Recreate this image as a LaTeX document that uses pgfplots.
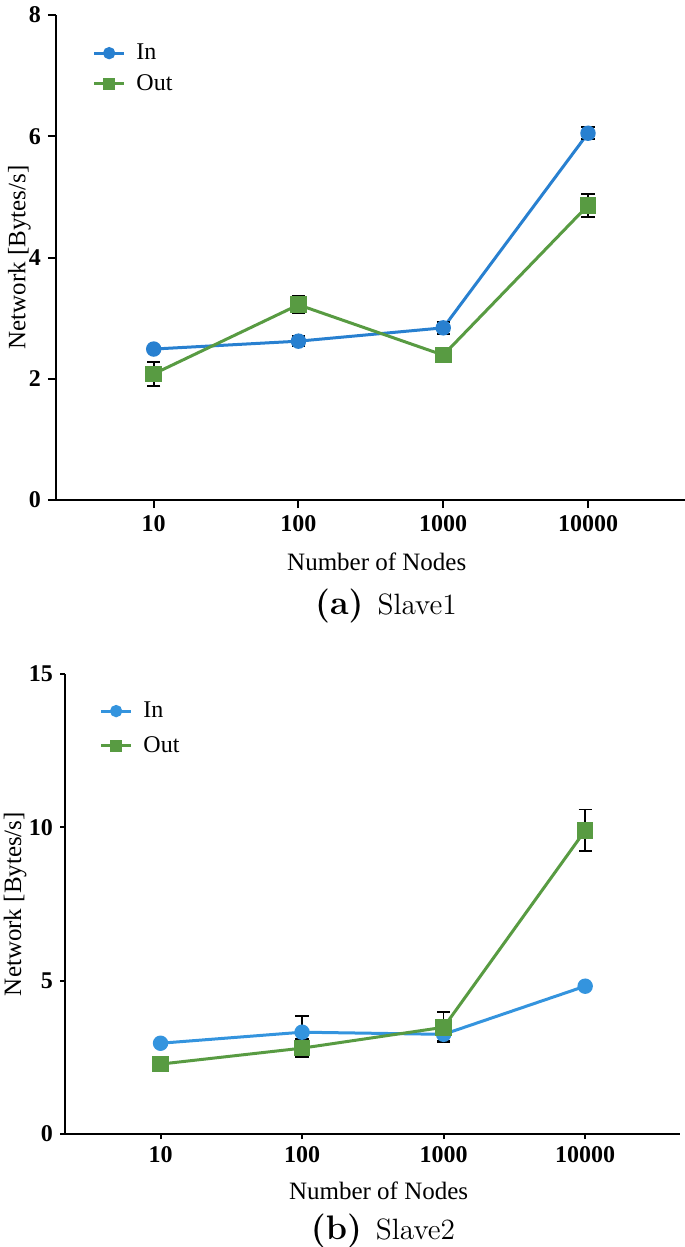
\documentclass[border=0pt]{standalone}
\usepackage{pgfplots}
\pgfplotsset{compat=1.18}
\usepackage{fontspec}
\newfontfamily\tnr{Liberation Serif}
\definecolor{inblue}{RGB}{40,128,208}
\definecolor{inblue2}{RGB}{52,148,222}
\definecolor{outgreen}{RGB}{88,155,66}

\pgfplotsset{
  legend image code/.code={\draw[mark repeat=2,mark phase=2,#1,mark size=2.3pt] plot coordinates {(0cm,0cm) (0.26cm,0cm) (0.52cm,0cm)};},
  netstyle/.style={
    scale only axis,
    axis lines=left,
    axis line style={-, line width=1.1pt},
    xmin=-0.675, xmax=3.67, ymin=0,
    xtick={0,1,2,3}, xticklabels={10,100,1000,10000},
    tick align=outside,
    tick style={line width=1pt, black},
    ticklabel style={font=\tnr\bfseries\fontsize{12}{14}\selectfont},
    /pgf/number format/assume math mode=true,
    xlabel={Number of Nodes}, ylabel={Network [Bytes/s]},
    label style={font=\tnr\fontsize{12.5}{14}\selectfont},
    legend style={draw=none, fill=none, font=\tnr\fontsize{12}{14}\selectfont, cells={anchor=west}, row sep=2pt, anchor=north west, inner xsep=0pt,
      /tikz/every odd column/.append style={column sep=3.5pt}},
    legend cell align=left,
  },
  inplot/.style={line width=1.5pt, mark=*, mark size=3.1pt, mark options={solid}},
  outplot/.style={line width=1.5pt, mark=square*, mark size=3.4pt, mark options={solid}},
  errplot/.style={forget plot, draw=none, mark=none,
    error bars/y dir=both, error bars/y explicit,
    error bars/error bar style={draw=black, solid, line width=0.8pt},
    error bars/error mark options={rotate=90, mark size=3.3pt, draw=black, solid, line width=0.9pt}},
}

\begin{document}
\begin{tikzpicture}
\useasboundingbox (0,0) rectangle (342.5pt,-623.5pt);

% ---------- (a) Slave1 ----------
\begin{axis}[netstyle,
  at={(28pt,-250pt)}, anchor=south west,
  width=314.5pt, height=242.5pt,
  ymax=8, ytick={0,2,4,6,8},
  major tick length=4pt,
  ylabel style={at={(axis description cs:-0.058,0.5)}, anchor=center},
  xlabel style={at={(axis description cs:0.51,0)}, anchor=center, yshift=-31pt},
  legend style={at={(axis description cs:0.058,0.958)}},
]
\addplot[inplot, color=inblue] coordinates {(0,2.49) (1,2.62) (2,2.84) (3,6.05)};
\addlegendentry{In}
\addplot[outplot, color=outgreen] coordinates {(0,2.08) (1,3.22) (2,2.39) (3,4.86)};
\addlegendentry{Out}
\addplot[errplot] coordinates {
  (1,2.62) +- (0,0.08)
  (2,2.84) +- (0,0.10)
  (3,6.05) +- (0,0.10)
};
\addplot[errplot] coordinates {
  (0,2.08) +- (0,0.20)
  (1,3.22) +- (0,0.14)
  (2,2.39) +- (0,0.12)
  (3,4.86) +- (0,0.19)
};
\end{axis}
\node at (193pt,-303pt) {\fontsize{17}{20}\selectfont\bfseries (a)\hspace{7pt}\fontsize{14.7}{17}\selectfont\mdseries Slave1};

% ---------- (b) Slave2 ----------
\begin{axis}[netstyle,
  at={(32.5pt,-567pt)}, anchor=south west,
  width=307.5pt, height=230pt,
  ymax=15, ytick={0,5,10,15},
  major tick length=2.5pt,
  ylabel style={at={(axis description cs:-0.081,0.5)}, anchor=center},
  xlabel style={at={(axis description cs:0.51,0)}, anchor=center, yshift=-28.3pt},
  legend style={at={(axis description cs:0.056,0.958)}, row sep=4pt},
]
\addplot[inplot, color=inblue2] coordinates {(0,2.96) (1,3.32) (2,3.25) (3,4.82)};
\addlegendentry{In}
\addplot[outplot, color=outgreen] coordinates {(0,2.28) (1,2.80) (2,3.48) (3,9.90)};
\addlegendentry{Out}
\addplot[errplot] coordinates {
  (1,3.32) +- (0,0.52)
  (2,3.25) +- (0,0.22)
};
\addplot[errplot] coordinates {
  (1,2.80) +- (0,0.30)
  (2,3.48) +- (0,0.49)
  (3,9.90) +- (0,0.68)
};
\end{axis}
\node at (191.5pt,-615.5pt) {\fontsize{17}{20}\selectfont\bfseries (b)\hspace{7pt}\fontsize{14.7}{17}\selectfont\mdseries Slave2};
\end{tikzpicture}
\end{document}
